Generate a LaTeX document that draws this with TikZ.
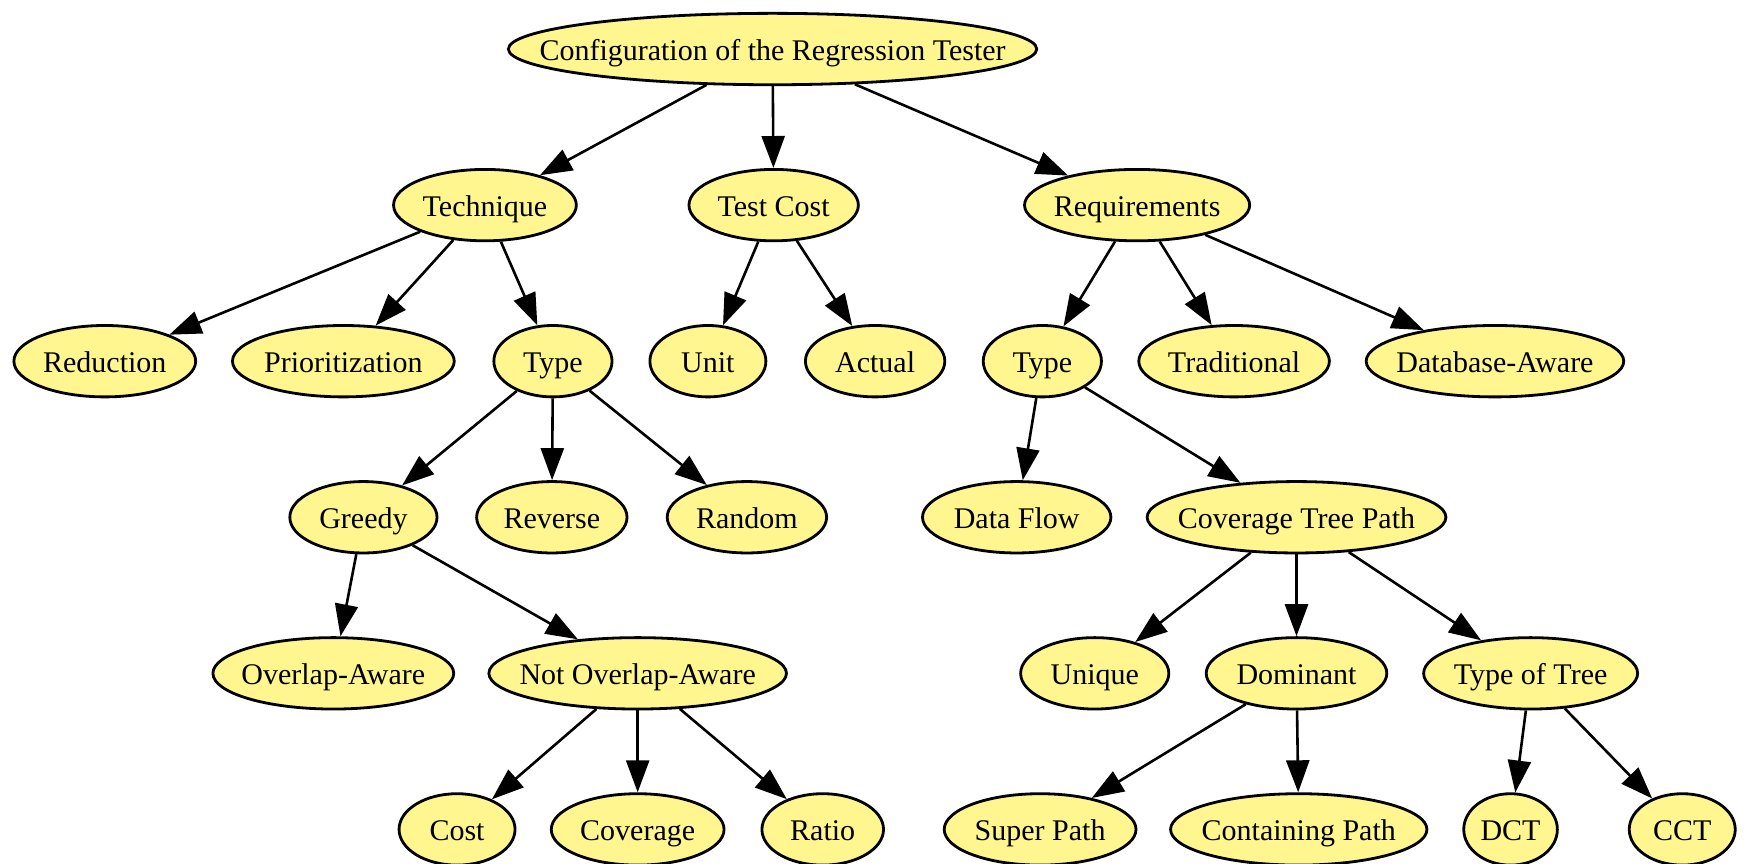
\documentclass[tikz,border=0pt]{standalone}
\usepackage{fontspec}
\setmainfont{Liberation Serif}
\usetikzlibrary{shapes.geometric,arrows.meta}
\definecolor{nodefill}{HTML}{FFF68F}
\newcommand{\lbl}[1]{\makebox[0pt]{#1}}
\tikzset{
  nd/.style={ellipse, draw=black, fill=nodefill, line width=1.4pt,
    minimum height=35.7pt, inner sep=0pt, text height=12pt, text depth=0.5pt,
    font=\fontsize{15}{17}\selectfont},
  edge/.style={line width=1.3pt, -{Triangle[length=16pt,width=11.5pt]}}
}
\begin{document}
\begin{tikzpicture}[x=0.5574pt, y=-0.5574pt]
\useasboundingbox (0,0) rectangle (1568,775);
% level 0
\node[nd, minimum width=264.2pt] (root) at (693,44) {\lbl{Configuration of the Regression Tester}};
% level 1
\node[nd, minimum width=91.4pt]  (tech) at (435,184) {\lbl{Technique}};
\node[nd, minimum width=84.7pt]  (cost) at (694,184) {\lbl{Test Cost}};
\node[nd, minimum width=112.6pt] (req)  at (1020,184) {\lbl{Requirements}};
% level 2
\node[nd, minimum width=90.9pt]  (red)   at (94,324) {\lbl{Reduction}};
\node[nd, minimum width=110.9pt] (prio)  at (308,324) {\lbl{Prioritization}};
\node[nd, minimum width=59.1pt]  (typeL) at (496,324) {\lbl{Type}};
\node[nd, minimum width=58.0pt]  (unit)  at (635,324) {\lbl{Unit}};
\node[nd, minimum width=69.7pt]  (act)   at (785,324) {\lbl{Actual}};
\node[nd, minimum width=59.1pt]  (typeR) at (935,324) {\lbl{Type}};
\node[nd, minimum width=95.3pt]  (trad)  at (1107,324) {\lbl{Traditional}};
\node[nd, minimum width=128.8pt] (dba)   at (1341,324) {\lbl{Database-Aware}};
% level 3
\node[nd, minimum width=73.6pt]  (greedy) at (326,464) {\lbl{Greedy}};
\node[nd, minimum width=75.2pt]  (rev)    at (495,464) {\lbl{Reverse}};
\node[nd, minimum width=79.7pt]  (rand)   at (670,464) {\lbl{Random}};
\node[nd, minimum width=94.2pt]  (dflow)  at (912,464) {\lbl{Data Flow}};
\node[nd, minimum width=149.4pt] (ctp)    at (1163,464) {\lbl{Coverage Tree Path}};
% level 4
\node[nd, minimum width=120.4pt] (ova)  at (299,604) {\lbl{Overlap-Aware}};
\node[nd, minimum width=148.8pt] (nova) at (572,604) {\lbl{Not Overlap-Aware}};
\node[nd, minimum width=74.1pt]  (uniq) at (982,604) {\lbl{Unique}};
\node[nd, minimum width=90.3pt]  (dom)  at (1163,604) {\lbl{Dominant}};
\node[nd, minimum width=107.0pt] (tot)  at (1373,604) {\lbl{Type of Tree}};
% level 5
\node[nd, minimum width=58.0pt]  (ccost) at (410,744) {\lbl{Cost}};
\node[nd, minimum width=86.4pt]  (cov)   at (572,744) {\lbl{Coverage}};
\node[nd, minimum width=60.8pt]  (ratio) at (738,744) {\lbl{Ratio}};
\node[nd, minimum width=95.9pt]  (super) at (933,744) {\lbl{Super Path}};
\node[nd, minimum width=128.2pt] (cont)  at (1165,744) {\lbl{Containing Path}};
\node[nd, minimum width=46.8pt]  (dct)   at (1355,744) {\lbl{DCT}};
\node[nd, minimum width=53.0pt]  (cct)   at (1509,744) {\lbl{CCT}};
% connectors
\draw[edge] (root) -- (tech);
\draw[edge] (root) -- (cost);
\draw[edge] (root) -- (req);
\draw[edge] (tech) -- (red);
\draw[edge] (tech) -- (prio);
\draw[edge] (tech) -- (typeL);
\draw[edge] (cost) -- (unit);
\draw[edge] (cost) -- (act);
\draw[edge] (req) -- (typeR);
\draw[edge] (req) -- (trad);
\draw[edge] (req) -- (dba);
\draw[edge] (typeL) -- (greedy);
\draw[edge] (typeL) -- (rev);
\draw[edge] (typeL) -- (rand);
\draw[edge] (typeR) -- (dflow);
\draw[edge] (typeR) -- (ctp);
\draw[edge] (greedy) -- (ova);
\draw[edge] (greedy) -- (nova);
\draw[edge] (ctp) -- (uniq);
\draw[edge] (ctp) -- (dom);
\draw[edge] (ctp) -- (tot);
\draw[edge] (nova) -- (ccost);
\draw[edge] (nova) -- (cov);
\draw[edge] (nova) -- (ratio);
\draw[edge] (dom) -- (super);
\draw[edge] (dom) -- (cont);
\draw[edge] (tot) -- (dct);
\draw[edge] (tot) -- (cct);
\end{tikzpicture}
\end{document}
